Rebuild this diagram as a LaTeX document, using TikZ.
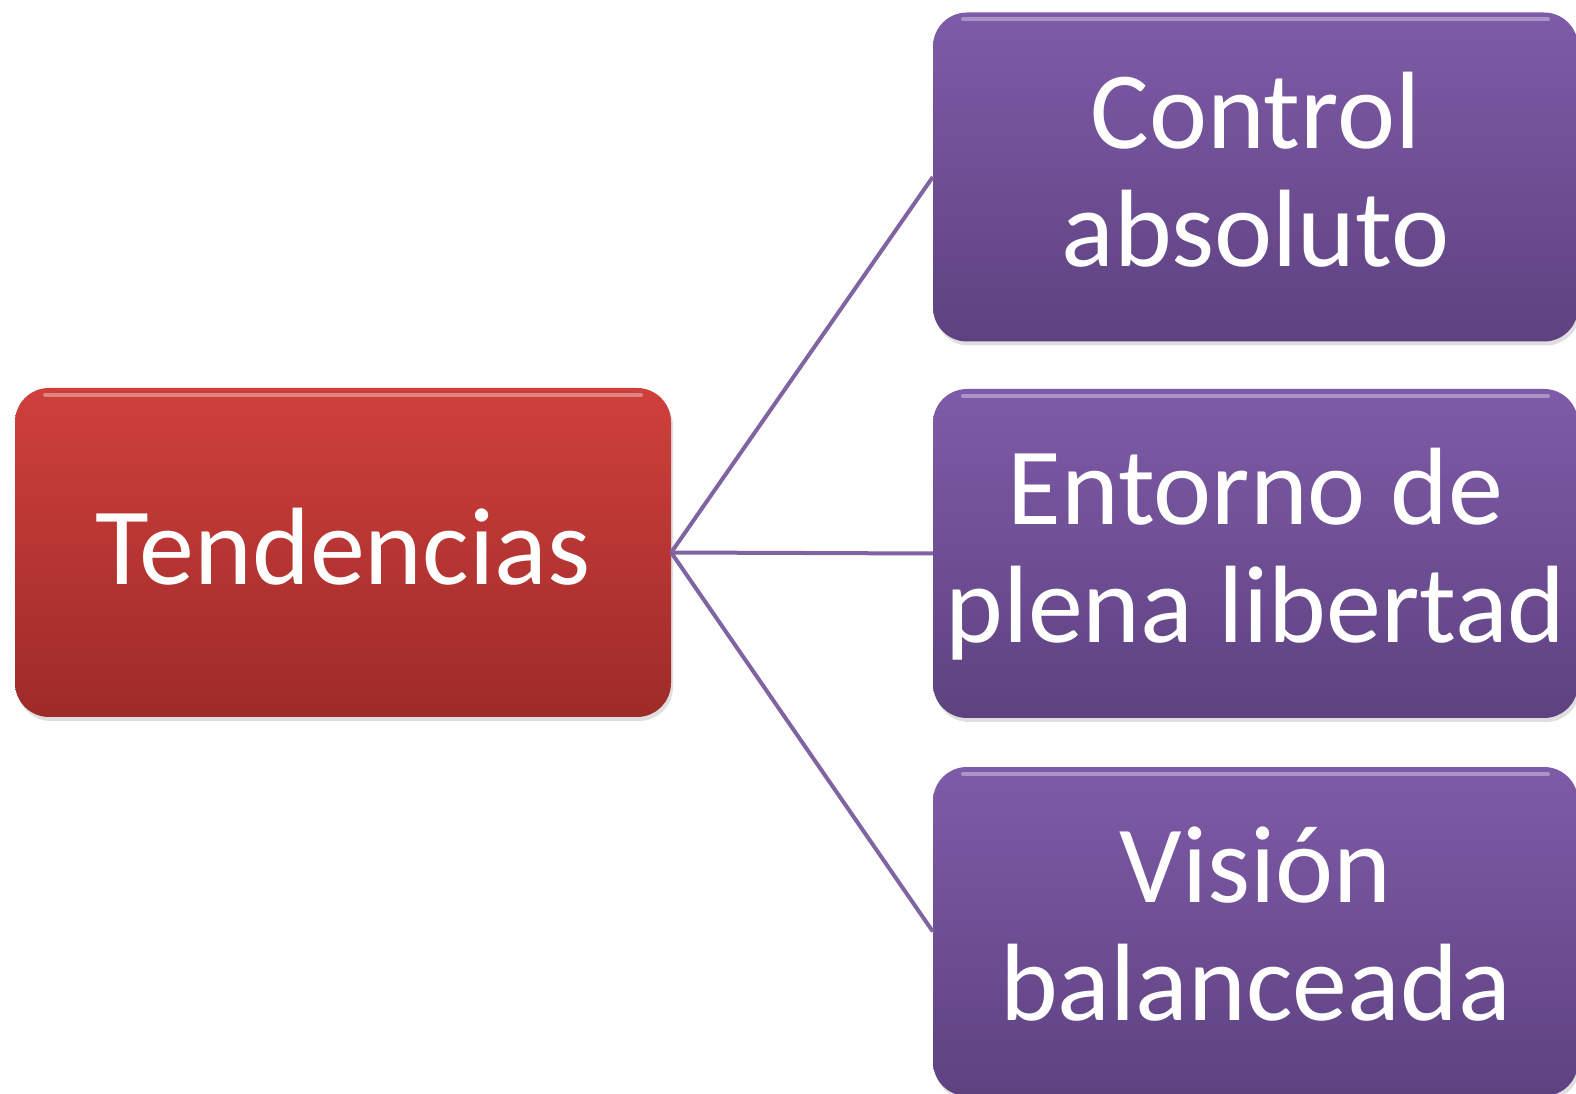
\documentclass[tikz,border=0pt]{standalone}
\usepackage{fontspec}
\setmainfont{Carlito}
\usetikzlibrary{shadows}
\definecolor{redtop}{HTML}{CF403C}
\definecolor{redbot}{HTML}{9E2B29}
\definecolor{purtop}{HTML}{7E5BA8}
\definecolor{purbot}{HTML}{5E4280}
\definecolor{linkcol}{HTML}{8064A2}
\tikzset{
  box/.style={rounded corners=34pt, minimum height=329pt, text=white,
    align=center, inner sep=0pt, font=\fontsize{110}{118}\selectfont,
    drop shadow={shadow xshift=2pt, shadow yshift=-4pt, opacity=0.25},
    path picture={\draw[white, opacity=0.35, line width=4pt, line cap=round]
      ([xshift=30pt,yshift=-7pt]path picture bounding box.north west) --
      ([xshift=-30pt,yshift=-7pt]path picture bounding box.north east);}},
  rootbox/.style={box, minimum width=656pt, text depth=12pt,
    top color=redtop, bottom color=redbot},
  leafbox/.style={box, minimum width=645pt, text depth=16pt,
    top color=purtop, bottom color=purbot},
  link/.style={draw=linkcol, line width=4pt}
}
\begin{document}
\begin{tikzpicture}[x=1pt,y=1pt]
  \useasboundingbox (0,0) rectangle (1576,1093);
  \fill[white] (0,0) rectangle (1576,1093);

  \node[rootbox] (tend) at (343,540.5) {Tendencias};
  \node[leafbox] (control) at (1255.5,916) {Control\\absoluto};
  \node[leafbox] (entorno) at (1255.5,539.5) {Entorno de\\plena libertad};
  \node[leafbox] (vision) at (1255.5,161.5) {Visión\\balanceada};

  \draw[link] (tend.east) -- (control.west);
  \draw[link] (tend.east) -- (entorno.west);
  \draw[link] (tend.east) -- (vision.west);
\end{tikzpicture}
\end{document}
